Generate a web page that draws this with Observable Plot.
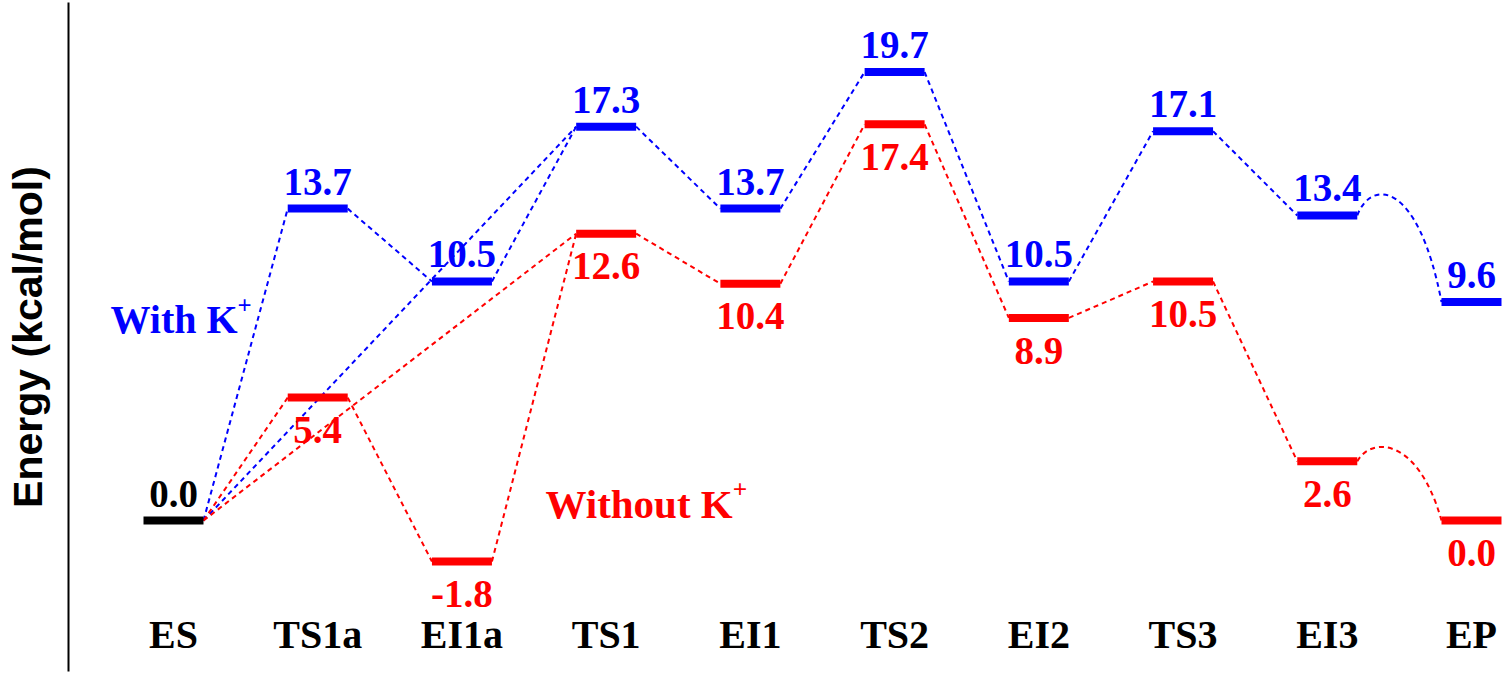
<!DOCTYPE html>
<html>
<head>
<meta charset="utf-8">
<script src="https://cdn.jsdelivr.net/npm/d3@7"></script>
<script src="https://cdn.jsdelivr.net/npm/@observablehq/plot@0.6"></script>
<style>
  html, body { margin: 0; padding: 0; background: #fff; }
  #chart svg { display: block; }
</style>
</head>
<body>
<div id="chart"></div>
<script>
// ---- data ----
const stages = ["ES", "TS1a", "EI1a", "TS1", "EI1", "TS2", "EI2", "TS3", "EI3", "EP"];
const withK = [0.0, 13.7, 10.5, 17.3, 13.7, 19.7, 10.5, 17.1, 13.4, 9.6];
const withoutK = [0.0, 5.4, -1.8, 12.6, 10.4, 17.4, 8.9, 10.5, 2.6, 0.0];
// pathway connections (pairs of stage indices)
const dashedLinks = [[0, 1], [1, 2], [0, 3], [2, 3], [3, 4], [4, 5], [5, 6], [6, 7], [7, 8]];
const curvedLinks = [[8, 9]];
const seriesLabels = ["With K+", "Without K+"];

const BLUE = "#0000ff", RED = "#ff0000";
const HW = 0.208; // bar half width in stage units

function rows(values) {
  return values.map((v, i) => ({i, v})).slice(1);
}
function linkRows(values, pairs) {
  return pairs.map(([a, b]) => ({x1: a + HW, y1: values[a], x2: b - HW, y2: values[b]}));
}
const fmt = (v) => v.toFixed(1);

// hump-shaped connector curve (style only)
function humpCurve(context) {
  let pts = [];
  return {
    areaStart() {}, areaEnd() {},
    lineStart() { pts = []; },
    point(x, y) { pts.push([x, y]); },
    lineEnd() {
      const [[x0, y0], [x1, y1]] = pts;
      const dx = x1 - x0;
      const top = Math.min(y0, y1) - 0.42 * Math.abs(y1 - y0);
      context.moveTo(x0, y0);
      context.bezierCurveTo(x0 + 0.16 * dx, top, x0 + 0.72 * dx, top, x1, y1);
    }
  };
}

const serif = "Liberation Serif, Times New Roman, serif";
const sans = "Liberation Sans, Arial, sans-serif";
const dash = {strokeWidth: 2, strokeDasharray: "5,4"};
const valueFont = {fontSize: 39, fontWeight: "bold", fontFamily: serif};

const chart = Plot.plot({
  width: 1505,
  height: 674,
  marginLeft: 68,
  marginRight: 0,
  marginTop: 3,
  marginBottom: 4,
  style: {fontFamily: serif, background: "#fff"},
  x: {domain: [0, 9], range: [173, 1471], axis: null},
  y: {domain: [-6.76, 22.84], range: [674, 0], axis: null},
  marks: [
    Plot.frame({anchor: "left", stroke: "#000", strokeWidth: 2}),
    // y label
    Plot.text(["Energy (kcal/mol)"], {frameAnchor: "left", dx: -40, rotate: -90, textAnchor: "middle", fontSize: 41, fontWeight: "bold", fontFamily: sans, fill: "#000"}),
    // connectors
    Plot.link(linkRows(withK, dashedLinks), {x1: "x1", y1: "y1", x2: "x2", y2: "y2", stroke: BLUE, ...dash}),
    Plot.link(linkRows(withoutK, dashedLinks), {x1: "x1", y1: "y1", x2: "x2", y2: "y2", stroke: RED, ...dash}),
    Plot.link(linkRows(withK, curvedLinks), {x1: "x1", y1: "y1", x2: "x2", y2: "y2", stroke: BLUE, curve: humpCurve, ...dash}),
    Plot.link(linkRows(withoutK, curvedLinks), {x1: "x1", y1: "y1", x2: "x2", y2: "y2", stroke: RED, curve: humpCurve, ...dash}),
    // energy levels
    Plot.link(rows(withK), {x1: (d) => d.i - HW, x2: (d) => d.i + HW, y1: "v", y2: "v", stroke: BLUE, strokeWidth: 8}),
    Plot.link(rows(withoutK), {x1: (d) => d.i - HW, x2: (d) => d.i + HW, y1: "v", y2: "v", stroke: RED, strokeWidth: 8}),
    Plot.link([{i: 0, v: withK[0]}], {x1: (d) => d.i - HW, x2: (d) => d.i + HW, y1: "v", y2: "v", stroke: "#000", strokeWidth: 8}),
    // value labels
    Plot.text(rows(withK), {x: "i", y: "v", text: (d) => fmt(d.v), lineAnchor: "bottom", dy: -14, fill: BLUE, ...valueFont}),
    Plot.text(rows(withoutK), {x: "i", y: "v", text: (d) => fmt(d.v), lineAnchor: "top", dy: 18, fill: RED, ...valueFont}),
    Plot.text([{i: 0, v: withK[0]}], {x: "i", y: "v", text: (d) => fmt(d.v), lineAnchor: "bottom", dy: -14, fill: "#000", ...valueFont}),
    // series annotations
    Plot.text([seriesLabels[0]], {frameAnchor: "top-left", dx: 42, dy: 329, lineAnchor: "bottom", textAnchor: "start", fill: BLUE, fontSize: 40, fontWeight: "bold", fontFamily: serif}),
    Plot.text([seriesLabels[1]], {frameAnchor: "top-left", dx: 477, dy: 514, lineAnchor: "bottom", textAnchor: "start", fill: RED, fontSize: 41, fontWeight: "bold", fontFamily: serif}),
    // stage labels
    Plot.text(stages, {x: (d, i) => i, frameAnchor: "bottom", lineAnchor: "bottom", dy: -23, text: (d) => d, fill: "#000", fontSize: 40, fontWeight: "bold", fontFamily: serif})
  ]
});

// superscript "+" in K+
chart.querySelectorAll("text").forEach((t) => {
  const s = t.textContent;
  if (s.endsWith("K+")) {
    t.textContent = s.slice(0, -1);
    const sup = document.createElementNS("http://www.w3.org/2000/svg", "tspan");
    sup.setAttribute("font-size", "0.62em");
    sup.setAttribute("dy", "-0.75em");
    sup.textContent = "+";
    t.appendChild(sup);
  }
});

document.getElementById("chart").appendChild(chart);
</script>
</body>
</html>
